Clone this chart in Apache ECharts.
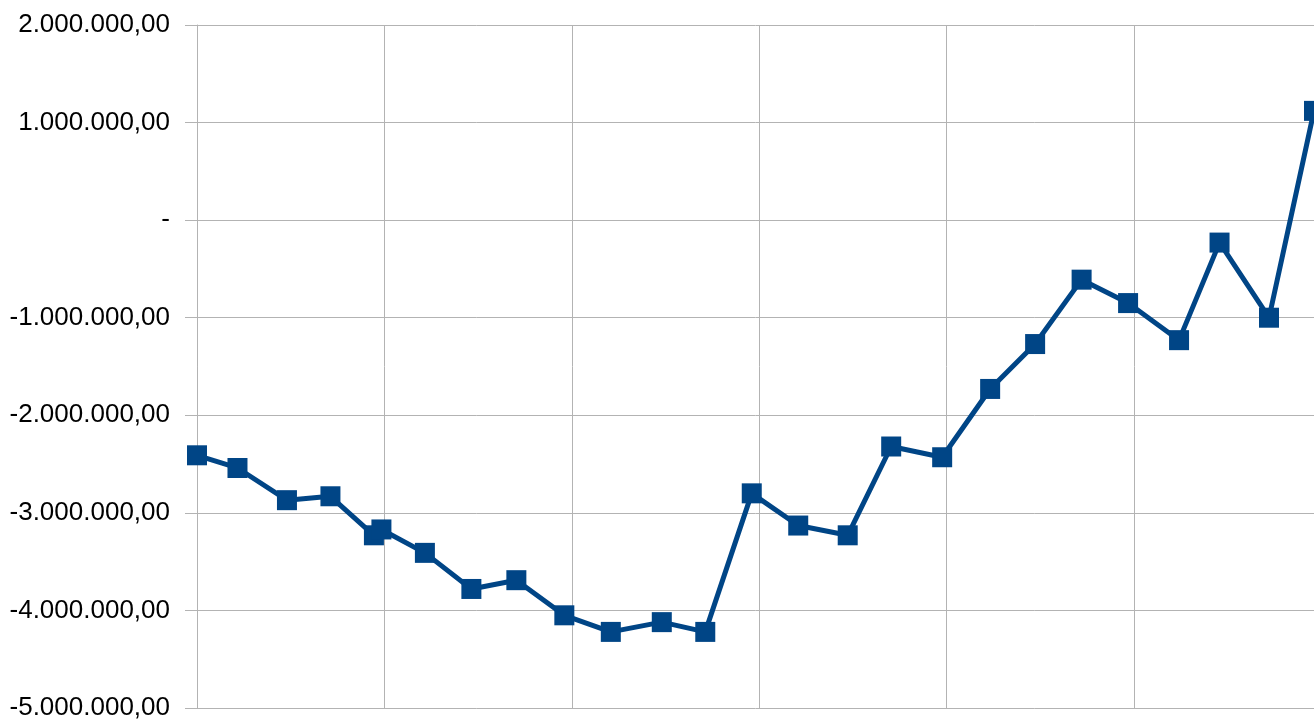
<!DOCTYPE html>
<html>
<head>
<meta charset="utf-8">
<script src="https://cdn.jsdelivr.net/npm/echarts@6/dist/echarts.min.js"></script>
<style>
  html, body { margin: 0; padding: 0; background: #fff; }
  #chart { width: 1314px; height: 722px; }
</style>
</head>
<body>
<div id="chart"></div>
<script>
  // x positions (days from start)
  const xDays = [0, 27, 60, 89, 118, 123, 152, 183, 213, 245, 276, 310, 339,
    370, 401, 434, 463, 497, 529, 559, 590, 621, 655, 682, 715, 745]
  const balance = [-2410000, -2540000, -2870000, -2830000, -3230000, -3170000,
    -3410000, -3780000, -3690000, -4050000, -4220000, -4120000, -4220000,
    -2800000, -3130000, -3230000, -2320000, -2430000, -1730000, -1270000,
    -610000, -850000, -1230000, -230000, -1000000, 1120000]

  const seriesData = xDays.map((d, i) => [d, balance[i]])

  function fmt(v) {
    if (v === 0) return '-'
    const neg = v < 0
    const s = Math.abs(v).toFixed(0).replace(/\B(?=(\d{3})+(?!\d))/g, '.')
    return (neg ? '-' : '') + s + ',00'
  }

  const myChart = echarts.init(document.getElementById('chart'))
  myChart.setOption({
    animation: false,
    backgroundColor: '#ffffff',
    grid: { left: 197, right: 0, top: 25, bottom: 14 },
    xAxis: {
      type: 'value',
      min: 0,
      max: 745,
      interval: 125,
      axisLine: { onZero: true, lineStyle: { color: '#b3b3b3', width: 1 } },
      axisTick: { show: true, length: 10, lineStyle: { color: '#b3b3b3' } },
      axisLabel: { show: false },
      splitLine: { show: true, lineStyle: { color: '#b3b3b3', width: 1 } }
    },
    yAxis: {
      type: 'value',
      min: -5000000,
      max: 2000000,
      interval: 1000000,
      axisLine: { show: true, lineStyle: { color: '#b3b3b3' } },
      axisTick: { show: true, length: 12, lineStyle: { color: '#b3b3b3' } },
      axisLabel: {
        formatter: fmt,
        color: '#000',
        fontFamily: 'Liberation Sans',
        fontSize: 26,
        margin: 27
      },
      splitLine: { show: true, lineStyle: { color: '#b3b3b3', width: 1 } }
    },
    series: [{
      type: 'line',
      data: seriesData,
      symbol: 'rect',
      symbolSize: 20,
      clip: false,
      lineStyle: { color: '#004586', width: 5 },
      itemStyle: { color: '#004586' }
    }]
  })
</script>
</body>
</html>
